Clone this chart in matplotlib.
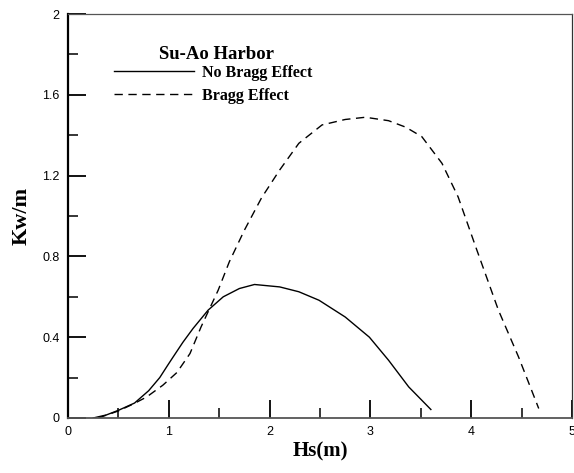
import matplotlib.pyplot as plt
from matplotlib.ticker import MultipleLocator

# Su-Ao harbor wave power vs significant wave height
hs_no = [0.25, 0.38, 0.5, 0.66, 0.8, 0.91, 0.99, 1.04, 1.14, 1.24, 1.39, 1.54, 1.70, 1.85,
         2.1, 2.29, 2.49, 2.75, 2.99, 3.18, 3.38, 3.60]
kw_no = [0.0, 0.015, 0.038, 0.074, 0.135, 0.2, 0.262, 0.30, 0.375, 0.443, 0.534, 0.60, 0.641,
         0.661, 0.649, 0.625, 0.583, 0.50, 0.40, 0.286, 0.154, 0.042]

hs_br = [0.3, 0.5, 0.65, 0.78, 0.94, 1.08, 1.21, 1.32, 1.49, 1.60, 1.75, 1.92, 2.1, 2.29, 2.52,
         2.75, 2.95, 3.18, 3.35, 3.51, 3.71, 3.87, 4.05, 4.27, 4.47, 4.67]
kw_br = [0.0, 0.035, 0.07, 0.104, 0.162, 0.225, 0.319, 0.451, 0.633, 0.773, 0.93, 1.09, 1.228,
         1.36, 1.451, 1.478, 1.489, 1.472, 1.44, 1.393, 1.261, 1.095, 0.84, 0.534, 0.302, 0.047]

fig = plt.figure(figsize=(5.74, 4.73), dpi=100)
ax = fig.add_axes([0.1185, 0.1163, 0.878, 0.854])

ax.plot(hs_no, kw_no, color='black', lw=1.0, label='No Bragg Effect')
ax.plot(hs_br, kw_br, color='black', lw=1.0, ls=(0, (6, 4)), label='Bragg Effect')

ax.set_xlim(0, 5)
ax.set_ylim(0, 2)
ax.xaxis.set_major_locator(MultipleLocator(1))
ax.xaxis.set_minor_locator(MultipleLocator(0.5))
ax.yaxis.set_major_locator(MultipleLocator(0.4))
ax.yaxis.set_minor_locator(MultipleLocator(0.2))
ax.set_xticks([0, 1, 2, 3, 4, 5])
ax.set_xticklabels(['0', '1', '2', '3', '4', '5'])
ax.set_yticks([0, 0.4, 0.8, 1.2, 1.6, 2])
ax.set_yticklabels(['0', '0.4', '0.8', '1.2', '1.6', '2'])

ax.tick_params(which='major', direction='in', length=13, width=1.3, labelsize=9, pad=6)
ax.tick_params(which='minor', direction='in', length=7, width=1.1)
for lab in ax.get_xticklabels() + ax.get_yticklabels():
    lab.set_family('Liberation Sans')

ax.spines['left'].set_linewidth(1.6)
ax.spines['bottom'].set_linewidth(1.3)
ax.spines['bottom'].set_color('#555555')
ax.spines['top'].set_linewidth(0.9)
ax.spines['top'].set_color('#555555')
ax.spines['right'].set_linewidth(0.9)
ax.spines['right'].set_color('#333333')

ax.set_xlabel('Hs(m)', fontsize=15, fontweight='bold', family='Liberation Serif', labelpad=2)
ax.set_ylabel('Kw/m', fontsize=16, fontweight='bold', family='Liberation Serif', labelpad=8)

# legend title drawn as its own text
ax.text(0.294, 0.901, 'Su-Ao Harbor', transform=ax.transAxes, ha='center', va='center',
        fontsize=13.5, fontweight='bold', family='Liberation Serif')
ax.legend(loc='upper left', bbox_to_anchor=(0.078, 0.89), frameon=False,
          handlelength=5.0, handletextpad=0.55, labelspacing=0.45, borderaxespad=0,
          prop={'family': 'Liberation Serif', 'weight': 'bold', 'size': 11.5})

plt.savefig('out.png', dpi=100)
